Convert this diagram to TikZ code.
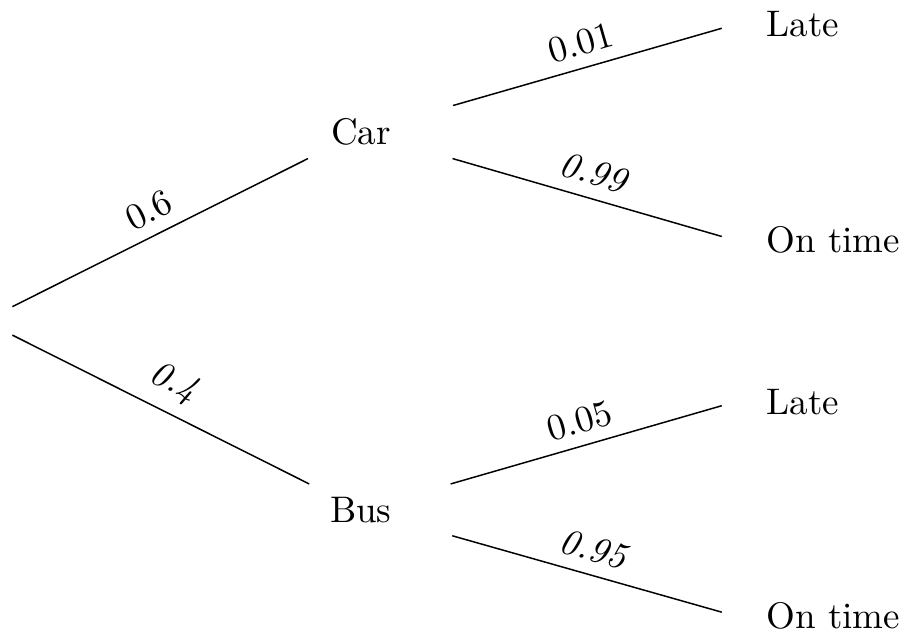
\documentclass[tikz,border=0pt]{standalone}
\usepackage{amsmath}
\usepackage{tikz}
\usetikzlibrary{positioning}

\begin{document}
\begin{tikzpicture}[
  bag/.style={align=center, minimum width=50pt},
  leaf/.style={inner sep=3.33pt, label={[label distance=1.5pt]right:#1}},
  lab/.style={sloped, above},
]
\useasboundingbox (0,0) rectangle (8.587,-5.994);
% root and first level
\node[bag, inner sep=0pt, minimum height=7.3pt] (root) at (-0.152,-3.048) {};
\node[bag] (car) at (3.428,-1.254) {Car};
\node[bag] (bus) at (3.428,-4.843) {Bus};
% outcomes
\node[leaf=Late] (carlate) at (6.98,-0.233) {};
\node[leaf=On time] (carontime) at (6.98,-2.282) {};
\node[leaf=Late] (buslate) at (6.98,-3.818) {};
\node[leaf=On time] (busontime) at (6.98,-5.850) {};
\draw (root) -- node[lab] {$0.6$} (car);
\draw (root) -- node[lab] {\textit{0.4}} (bus);
\draw (car) -- node[lab] {$0.01$} (carlate);
\draw (car) -- node[lab] {\textit{0.99}} (carontime);
\draw (bus) -- node[lab] {$0.05$} (buslate);
\draw (bus) -- node[lab] {\textit{0.95}} (busontime);
\end{tikzpicture}
\end{document}
